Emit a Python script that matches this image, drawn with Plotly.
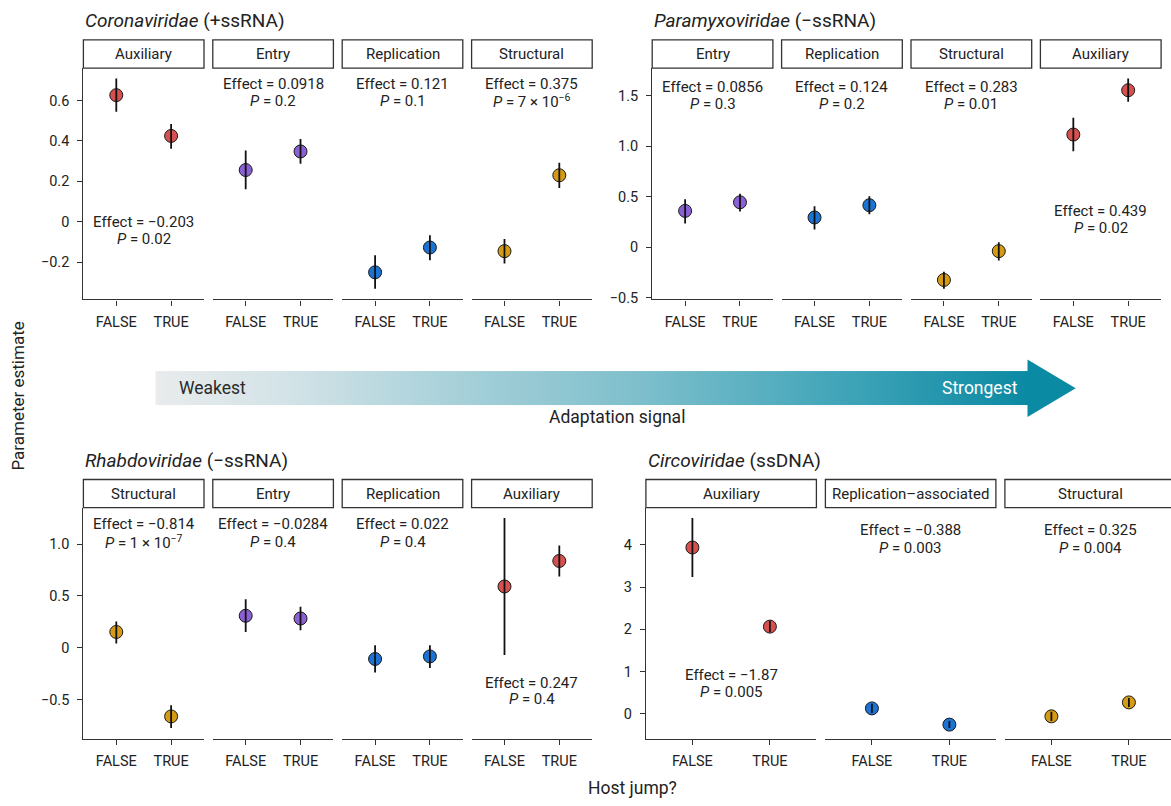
import plotly.graph_objects as go

W, H = 1171, 806
FONT = "Roboto"
INK = "#222222"
AXIS = "#333333"

# ---------------- data ----------------
# Coronaviridae (+ssRNA)
cor_cats = ["Auxiliary", "Entry", "Replication", "Structural"]
cor_false = [0.627, 0.256, -0.251, -0.146]
cor_false_lo = [0.545, 0.161, -0.333, -0.207]
cor_false_hi = [0.709, 0.353, -0.167, -0.086]
cor_true = [0.425, 0.348, -0.128, 0.230]
cor_true_lo = [0.361, 0.287, -0.191, 0.167]
cor_true_hi = [0.484, 0.410, -0.067, 0.292]
cor_effect = ["−0.203", "0.0918", "0.121", "0.375"]
cor_p = ["0.02", "0.2", "0.1", "7 × 10<sup>−6</sup>"]

# Paramyxoviridae (−ssRNA)
par_cats = ["Entry", "Replication", "Structural", "Auxiliary"]
par_false = [0.359, 0.294, -0.324, 1.114]
par_false_lo = [0.235, 0.176, -0.412, 0.948]
par_false_hi = [0.474, 0.405, -0.242, 1.281]
par_true = [0.444, 0.415, -0.039, 1.552]
par_true_lo = [0.353, 0.326, -0.131, 1.437]
par_true_hi = [0.529, 0.503, 0.049, 1.667]
par_effect = ["0.0856", "0.124", "0.283", "0.439"]
par_p = ["0.3", "0.2", "0.01", "0.02"]

# Rhabdoviridae (−ssRNA)
rha_cats = ["Structural", "Entry", "Replication", "Auxiliary"]
rha_false = [0.153, 0.309, -0.108, 0.592]
rha_false_lo = [0.041, 0.153, -0.239, -0.070]
rha_false_hi = [0.255, 0.468, 0.025, 1.252]
rha_true = [-0.662, 0.283, -0.083, 0.838]
rha_true_lo = [-0.774, 0.169, -0.194, 0.688]
rha_true_hi = [-0.554, 0.395, 0.025, 0.987]
rha_effect = ["−0.814", "−0.0284", "0.022", "0.247"]
rha_p = ["1 × 10<sup>−7</sup>", "0.4", "0.4", "0.4"]

# Circoviridae (ssDNA)
cir_cats = ["Auxiliary", "Replication–associated", "Structural"]
cir_false = [3.937, 0.125, -0.063]
cir_false_lo = [3.239, 0.016, -0.173]
cir_false_hi = [4.635, 0.235, 0.047]
cir_true = [2.063, -0.259, 0.267]
cir_true_lo = [1.929, -0.340, 0.157]
cir_true_hi = [2.196, -0.175, 0.369]
cir_effect = ["−1.87", "−0.388", "0.325"]
cir_p = ["0.005", "0.003", "0.004"]

host_jump = ["FALSE", "TRUE"]

cor_ticks = [-0.2, 0, 0.2, 0.4, 0.6]
cor_ticktext = ["−0.2", "0", "0.2", "0.4", "0.6"]
par_ticks = [-0.5, 0, 0.5, 1.0, 1.5]
par_ticktext = ["−0.5", "0", "0.5", "1.0", "1.5"]
rha_ticks = [-0.5, 0, 0.5, 1.0]
rha_ticktext = ["−0.5", "0", "0.5", "1.0"]
cir_ticks = [0, 1, 2, 3, 4]
cir_ticktext = ["0", "1", "2", "3", "4"]

gene_colors = {
    "Auxiliary": "#d6504f",
    "Entry": "#8a60d2",
    "Replication": "#1b73d3",
    "Replication–associated": "#1b73d3",
    "Structural": "#d59b14",
}


def px(x):
    return x / W


def py(y):
    return 1 - y / H


fig = go.Figure()
layout = {}
shapes = []
annotations = []
axis_n = [0]


def add_group(title, cats, f, f_lo, f_hi, t, t_lo, t_hi, effects, pvals,
              ticks, ticktext, geo):
    left0, pitch, width = geo["left"], geo["pitch"], geo["width"]
    strip_top, plot_top, plot_bot = geo["strip_top"], geo["plot_top"], geo["plot_bot"]
    lows = f_lo + t_lo
    highs = f_hi + t_hi
    lo, hi = min(lows), max(highs)
    pad = 0.05 * (hi - lo)
    yrange = [lo - pad, hi + pad]

    annotations.append(dict(
        text=title, x=px(left0), y=py(geo["title_y"]), xref="paper", yref="paper",
        xanchor="left", yanchor="middle", showarrow=False,
        font=dict(family=FONT, size=19, color=INK)))

    for i, cat in enumerate(cats):
        axis_n[0] += 1
        n = axis_n[0]
        xa = "xaxis" if n == 1 else f"xaxis{n}"
        ya = "yaxis" if n == 1 else f"yaxis{n}"
        xr = "x" if n == 1 else f"x{n}"
        yr = "y" if n == 1 else f"y{n}"
        left = left0 + i * pitch
        right = left + width
        first = i == 0
        # a panel running past the page edge is cut at the edge
        xmax = 2.6
        if right > W:
            xmax = 0.4 + 2.2 * (W - left) / width
            right = W
        layout[xa] = dict(
            domain=[px(left), px(right)], anchor=yr, range=[0.4, xmax],
            tickmode="array", tickvals=[1, 2], ticktext=host_jump,
            showline=True, linecolor=AXIS, linewidth=1.3, ticks="outside",
            ticklen=5, tickwidth=1.3, tickcolor=AXIS, showgrid=False, zeroline=False,
            tickfont=dict(family=FONT, size=14.5, color=INK), ticklabelstandoff=4,
            fixedrange=True)
        layout[ya] = dict(
            domain=[py(plot_bot), py(plot_top)], anchor=xr, range=yrange,
            tickmode="array", tickvals=ticks, ticktext=ticktext,
            showline=first, linecolor=AXIS, linewidth=1.3,
            ticks="outside" if first else "", ticklen=5, tickwidth=1.3, tickcolor=AXIS,
            showticklabels=first, showgrid=False, zeroline=False,
            tickfont=dict(family=FONT, size=14.5, color=INK), ticklabelstandoff=5,
            fixedrange=True)

        color = gene_colors[cat]
        # point estimates
        fig.add_trace(go.Scatter(
            x=[1, 2], y=[f[i], t[i]], xaxis=xr, yaxis=yr, mode="markers",
            marker=dict(size=13, color=color, line=dict(color="#1a1a1a", width=1)),
            showlegend=False, hoverinfo="skip"))
        # confidence intervals, drawn over the points
        fig.add_trace(go.Scatter(
            x=[1, 1, None, 2, 2], y=[f_lo[i], f_hi[i], None, t_lo[i], t_hi[i]],
            xaxis=xr, yaxis=yr, mode="lines",
            line=dict(color="#111111", width=1.8),
            showlegend=False, hoverinfo="skip"))

        # facet strip
        shapes.append(dict(
            type="rect", xref="paper", yref="paper",
            x0=px(left), x1=px(left + width), y0=py(plot_top), y1=py(strip_top),
            line=dict(color=AXIS, width=1.3), fillcolor="white"))
        annotations.append(dict(
            text=cat, x=px(left + width / 2), y=py((strip_top + plot_top) / 2),
            xref="paper", yref="paper", xanchor="center", yanchor="middle",
            showarrow=False, font=dict(family=FONT, size=15, color=INK)))

        # effect and P value
        ey = geo["low_lab"] if cat == "Auxiliary" else geo["high_lab"]
        cx = px(left + width / 2)
        annotations.append(dict(
            text=f"Effect = {effects[i]}", x=cx, y=py(ey[0]),
            xref="paper", yref="paper", xanchor="center", yanchor="middle",
            showarrow=False, font=dict(family=FONT, size=15, color=INK)))
        annotations.append(dict(
            text=f"<i>P</i> = {pvals[i]}", x=cx, y=py(ey[1]),
            xref="paper", yref="paper", xanchor="center", yanchor="middle",
            showarrow=False, font=dict(family=FONT, size=15, color=INK)))


add_group("<i>Coronaviridae</i> (+ssRNA)", cor_cats,
          cor_false, cor_false_lo, cor_false_hi, cor_true, cor_true_lo, cor_true_hi,
          cor_effect, cor_p, cor_ticks, cor_ticktext,
          dict(left=83.4, pitch=129.4, width=120.6, strip_top=40.3, plot_top=68.7,
               plot_bot=302, title_y=21, high_lab=(85, 102), low_lab=(223.5, 241.5)))

add_group("<i>Paramyxoviridae</i> (−ssRNA)", par_cats,
          par_false, par_false_lo, par_false_hi, par_true, par_true_lo, par_true_hi,
          par_effect, par_p, par_ticks, par_ticktext,
          dict(left=652.2, pitch=129.4, width=120.7, strip_top=40.3, plot_top=68.7,
               plot_bot=302, title_y=21, high_lab=(88, 105), low_lab=(212.5, 230)))

add_group("<i>Rhabdoviridae</i> (−ssRNA)", rha_cats,
          rha_false, rha_false_lo, rha_false_hi, rha_true, rha_true_lo, rha_true_hi,
          rha_effect, rha_p, rha_ticks, rha_ticktext,
          dict(left=83.4, pitch=129.4, width=120.6, strip_top=483.7, plot_top=512,
               plot_bot=745, title_y=464.5, high_lab=(529, 546.5), low_lab=(688.5, 705.5)))

add_group("<i>Circoviridae</i> (ssDNA)", cir_cats,
          cir_false, cir_false_lo, cir_false_hi, cir_true, cir_true_lo, cir_true_hi,
          cir_effect, cir_p, cir_ticks, cir_ticktext,
          dict(left=645.9, pitch=179.5, width=170.5, strip_top=483.7, plot_top=512,
               plot_bot=745, title_y=464.5, high_lab=(535, 552.5), low_lab=(680.5, 698.5)))

# ---------------- adaptation-signal arrow ----------------
body_x0, body_x1, body_top, body_bot = 155.3, 1028, 374.3, 409
head_top, head_bot, tip_x, mid_y = 362.7, 420.7, 1075.7, 391.7
arrow_scale = [
    [0.0, "#e9ebec"], [0.15, "#d3e3e7"], [0.35, "#a6d0d9"], [0.55, "#7fbfcc"],
    [0.75, "#4aa9bc"], [0.9, "#2496ad"], [1.0, "#0b8aa3"],
]
fig.add_trace(go.Heatmap(
    z=[[0, 1], [0, 1]], x=[0, 1], y=[0, 1], xaxis="x99", yaxis="y99",
    colorscale=arrow_scale, zsmooth="best", showscale=False, hoverinfo="skip"))
layout["xaxis99"] = dict(domain=[px(body_x0), px(body_x1)], range=[0, 1], visible=False,
                         anchor="y99", fixedrange=True)
layout["yaxis99"] = dict(domain=[py(body_bot), py(body_top)], range=[0, 1], visible=False,
                         anchor="x99", fixedrange=True)
shapes.append(dict(
    type="path", xref="paper", yref="paper",
    path=(f"M {px(body_x1 - 0.5)},{py(head_top)} L {px(tip_x)},{py(mid_y)} "
          f"L {px(body_x1 - 0.5)},{py(head_bot)} Z"),
    fillcolor="#0b8aa3", line=dict(width=0)))
annotations += [
    dict(text="Weakest", x=px(177), y=py(391.5), xref="paper", yref="paper",
         xanchor="left", yanchor="middle", showarrow=False,
         font=dict(family=FONT, size=17.5, color="#2a2a2a")),
    dict(text="Strongest", x=px(1020), y=py(391.5), xref="paper", yref="paper",
         xanchor="right", yanchor="middle", showarrow=False,
         font=dict(family=FONT, size=17.5, color="white")),
    dict(text="Adaptation signal", x=px(617), y=py(421), xref="paper", yref="paper",
         xanchor="center", yanchor="middle", showarrow=False,
         font=dict(family=FONT, size=17.5, color=INK)),
    dict(text="Parameter estimate", x=px(18), y=py(400), xref="paper", yref="paper",
         xanchor="center", yanchor="middle", showarrow=False, textangle=-90,
         font=dict(family=FONT, size=17, color=INK)),
    dict(text="Host jump?", x=px(632), y=py(795), xref="paper", yref="paper",
         xanchor="center", yanchor="middle", showarrow=False,
         font=dict(family=FONT, size=17.5, color=INK)),
]

fig.update_layout(
    width=W, height=H, margin=dict(l=0, r=0, t=0, b=0),
    paper_bgcolor="white", plot_bgcolor="white",
    shapes=shapes, annotations=annotations, showlegend=False,
    **layout)

fig.write_html("out.html")
